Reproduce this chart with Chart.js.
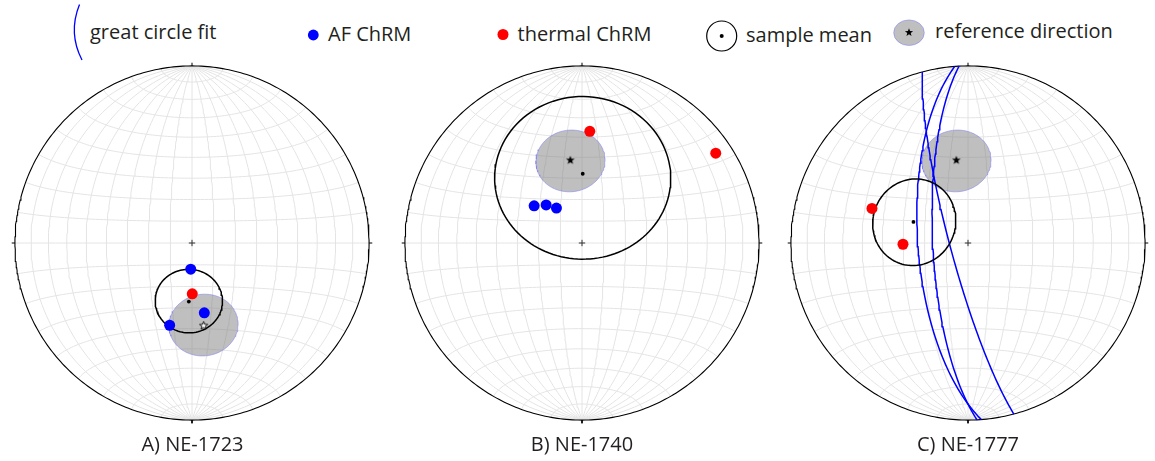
<!DOCTYPE html>
<html>
<head>
<meta charset="utf-8">
<script src="https://cdn.jsdelivr.net/npm/chart.js@4.4.0/dist/chart.umd.min.js"></script>
<style>
  html,body{margin:0;padding:0;background:#fff;}
  body{width:1155px;height:461px;position:relative;overflow:hidden;font-family:'Open Sans',sans-serif;color:#231f20;}
  canvas.net{position:absolute;}
  .txt{position:absolute;font-size:20px;line-height:20px;white-space:nowrap;}
  .title{transform:translateX(-50%);}
  svg{position:absolute;overflow:visible;}
</style>
</head>
<body>
<div id="legend"></div>
<canvas class="net" id="netA" width="390" height="390"></canvas>
<canvas class="net" id="netB" width="390" height="390"></canvas>
<canvas class="net" id="netC" width="390" height="390"></canvas>
<div id="titles"></div>
<script>
// ---------------- DATA (directions as [declination, inclination] in degrees) ----------------
const panelTitles = ['A) NE-1723', 'B) NE-1740', 'C) NE-1777'];
const legendLabels = ['great circle fit', 'AF ChRM', 'thermal ChRM', 'sample mean', 'reference direction'];

// A) NE-1723
const afChrmA = [[182.8, 78.0], [170.0, 57.1], [195.2, 50.2]];
const thermalChrmA = [[179.7, 66.6]];
const sampleMeanA = [183.1, 62.9];
const alpha95A = 15.0;
const referenceA = [172.0, -51.0];
const refAlpha95A = 15.0;
const greatCirclesA = [];

// B) NE-1740
const afChrmB = [[307.8, 62.0], [316.7, 65.9], [323.8, 70.1]];
const thermalChrmB = [[4.0, 36.9], [56.1, 9.9]];
const sampleMeanB = [0.6, 57.9];
const alpha95B = 39.5;
const referenceB = [352.0, 51.0];
const refAlpha95B = 15.0;
const greatCirclesB = [];

// C) NE-1777
const afChrmC = [];
const thermalChrmC = [[289.8, 41.9], [268.9, 59.9]];
const sampleMeanC = [291.1, 63.0];
const alpha95C = 19.5;
const referenceC = [352.0, 51.0];
const refAlpha95C = 15.0;
const greatCirclesC = [[255.0, 81.7], [265.7, 66.9], [267.1, 73.8]]; // [dip direction, dip]

// ---------------- GEOMETRY (equal-area, lower hemisphere) ----------------
const D2R = Math.PI / 180;
function dirVec(dec, inc) {
  const I = Math.abs(inc) * D2R, D = dec * D2R;
  return [Math.cos(I) * Math.sin(D), Math.cos(I) * Math.cos(D), Math.sin(I)];
}
function projVec(v) {
  const z = Math.max(-0.999999, v[2]);
  const k = 1 / Math.sqrt(1 + z);
  return { x: v[0] * k, y: v[1] * k };
}
function projDir(d) { return projVec(dirVec(d[0], d[1])); }
function cross(a, b) { return [a[1]*b[2]-a[2]*b[1], a[2]*b[0]-a[0]*b[2], a[0]*b[1]-a[1]*b[0]]; }
function norm(a) { const l = Math.hypot(a[0], a[1], a[2]); return [a[0]/l, a[1]/l, a[2]/l]; }
function smallCircle(dir, alpha) {
  const m = dirVec(dir[0], dir[1]);
  let e1 = cross(m, [0, 0, 1]);
  if (Math.hypot(e1[0], e1[1], e1[2]) < 1e-6) e1 = [1, 0, 0];
  e1 = norm(e1);
  const e2 = cross(m, e1);
  const ca = Math.cos(alpha * D2R), sa = Math.sin(alpha * D2R);
  const pts = [];
  for (let t = 0; t <= 360; t += 3) {
    const c = Math.cos(t * D2R), s = Math.sin(t * D2R);
    pts.push(projVec([ca*m[0] + sa*(c*e1[0] + s*e2[0]), ca*m[1] + sa*(c*e1[1] + s*e2[1]), ca*m[2] + sa*(c*e1[2] + s*e2[2])]));
  }
  return pts;
}
function greatCircle(gc) {
  const dd = gc[0] * D2R, dip = gc[1] * D2R, st = dd - Math.PI / 2;
  const s = [Math.sin(st), Math.cos(st), 0];
  const d = [Math.cos(dip) * Math.sin(dd), Math.cos(dip) * Math.cos(dd), Math.sin(dip)];
  const pts = [];
  for (let t = 0; t <= 180; t += 2) {
    const c = Math.cos(t * D2R), sn = Math.sin(t * D2R);
    pts.push(projVec([c*s[0] + sn*d[0], c*s[1] + sn*d[1], c*s[2] + sn*d[2]]));
  }
  return pts;
}
function netGrid() {
  const lines = [];
  for (let lam = -80; lam <= 80; lam += 10) {
    const pts = [];
    for (let phi = -90; phi <= 90; phi += 2) {
      const p = phi * D2R, l = lam * D2R;
      pts.push(projVec([Math.cos(p) * Math.sin(l), Math.sin(p), Math.cos(p) * Math.cos(l)]));
    }
    lines.push(pts);
  }
  for (let phi = -80; phi <= 80; phi += 10) {
    const pts = [];
    for (let lam = -90; lam <= 90; lam += 2) {
      const p = phi * D2R, l = lam * D2R;
      pts.push(projVec([Math.cos(p) * Math.sin(l), Math.sin(p), Math.cos(p) * Math.cos(l)]));
    }
    lines.push(pts);
  }
  return lines;
}
function primitive() {
  const pts = [];
  for (let t = 0; t <= 360; t += 1) pts.push({ x: Math.sin(t * D2R), y: Math.cos(t * D2R) });
  return pts;
}

// ---------------- STYLE / LAYOUT ----------------
const R_NET = 182.7, HALF = 195, LIM = HALF / R_NET;
const netCenters = [[192.3, 243], [582.2, 243], [968.2, 243]];
const BLUE = '#0000ff', RED = '#ff0000';

function starCanvas(fill, stroke, outer) {
  const s = Math.ceil(outer * 2 + 4);
  const c = document.createElement('canvas');
  c.width = s; c.height = s;
  const g = c.getContext('2d');
  g.beginPath();
  for (let i = 0; i < 10; i++) {
    const r = i % 2 ? outer * 0.42 : outer;
    const a = -Math.PI / 2 + i * Math.PI / 5;
    const x = s / 2 + r * Math.cos(a), y = s / 2 + r * Math.sin(a);
    if (i) g.lineTo(x, y); else g.moveTo(x, y);
  }
  g.closePath();
  g.fillStyle = fill; g.fill();
  if (stroke) { g.lineWidth = 0.9; g.strokeStyle = stroke; g.stroke(); }
  return c;
}

function lineDS(pts, color, width, order, extra) {
  return Object.assign({ data: pts, showLine: true, fill: false, borderColor: color, borderWidth: width,
    pointRadius: 0, pointHoverRadius: 0, tension: 0, order: order }, extra || {});
}

function buildNet(canvasId, idx, af, thermal, mean, a95, ref, refA95, gcs) {
  const cv = document.getElementById(canvasId);
  cv.style.left = (netCenters[idx][0] - HALF) + 'px';
  cv.style.top = (netCenters[idx][1] - HALF) + 'px';
  const ds = [];
  netGrid().forEach(l => ds.push(lineDS(l, '#e4e4e4', 1, 100)));
  // reference direction confidence area
  ds.push(lineDS(smallCircle(ref, refA95), 'rgba(110,110,255,0.45)', 1, 90,
    { fill: 'shape', backgroundColor: 'rgba(128,128,128,0.5)' }));
  // primitive circle and ticks
  ds.push(lineDS(primitive(), '#000', 1.1, 80));
  const tk = 0.018;
  ds.push(lineDS([{x: 0, y: 1}, {x: 0, y: 1 + tk}], '#000', 1, 80));
  ds.push(lineDS([{x: 0, y: -1}, {x: 0, y: -1 - tk}], '#000', 1, 80));
  ds.push(lineDS([{x: 1, y: 0}, {x: 1 + tk, y: 0}], '#000', 1, 80));
  ds.push(lineDS([{x: -1, y: 0}, {x: -1 - tk, y: 0}], '#000', 1, 80));
  ds.push(lineDS([{x: -tk, y: 0}, {x: tk, y: 0}], '#333', 1, 80));
  ds.push(lineDS([{x: 0, y: -tk}, {x: 0, y: tk}], '#333', 1, 80));
  // great circles
  gcs.forEach(g => ds.push(lineDS(greatCircle(g), BLUE, 1.5, 70)));
  // sample mean confidence circle
  ds.push(lineDS(smallCircle(mean, a95), '#000', 1.5, 60));
  // ChRM directions
  ds.push({ data: af.map(projDir), pointRadius: 5.5, pointHoverRadius: 5.5, backgroundColor: BLUE, borderWidth: 0, order: 50 });
  ds.push({ data: thermal.map(projDir), pointRadius: 5.5, pointHoverRadius: 5.5, backgroundColor: RED, borderWidth: 0, order: 49 });
  // sample mean
  ds.push({ data: [projDir(mean)], pointRadius: 1.9, backgroundColor: '#000', borderWidth: 0, order: 40 });
  // reference direction (open star = upper hemisphere)
  const star = ref[1] < 0 ? starCanvas('#fff', '#000', 4.3) : starCanvas('#000', null, 4.6);
  ds.push({ data: [projDir(ref)], pointStyle: star, pointRadius: 5, order: 30 });

  new Chart(cv, {
    type: 'scatter',
    data: { datasets: ds },
    options: {
      responsive: false, animation: false, events: [],
      layout: { padding: 0 },
      plugins: { legend: { display: false }, tooltip: { enabled: false } },
      scales: {
        x: { type: 'linear', min: -LIM, max: LIM, display: false },
        y: { type: 'linear', min: -LIM, max: LIM, display: false }
      }
    }
  });
}

buildNet('netA', 0, afChrmA, thermalChrmA, sampleMeanA, alpha95A, referenceA, refAlpha95A, greatCirclesA);
buildNet('netB', 1, afChrmB, thermalChrmB, sampleMeanB, alpha95B, referenceB, refAlpha95B, greatCirclesB);
buildNet('netC', 2, afChrmC, thermalChrmC, sampleMeanC, alpha95C, referenceC, refAlpha95C, greatCirclesC);

// ---------------- TITLES ----------------
const titleX = [192.5, 582, 968];
const tdiv = document.getElementById('titles');
panelTitles.forEach((t, i) => {
  const d = document.createElement('div');
  d.className = 'txt title';
  d.textContent = t;
  d.style.left = titleX[i] + 'px';
  d.style.top = (452 - 17.8) + 'px';
  tdiv.appendChild(d);
});

// ---------------- LEGEND ----------------
function starPts(cx, cy, outer) {
  const p = [];
  for (let i = 0; i < 10; i++) {
    const r = i % 2 ? outer * 0.42 : outer;
    const a = -Math.PI / 2 + i * Math.PI / 5;
    p.push((cx + r * Math.cos(a)).toFixed(2) + ',' + (cy + r * Math.sin(a)).toFixed(2));
  }
  return p.join(' ');
}
const legendSymbols = [
  '<svg style="left:0;top:0" width="1" height="1"><path d="M79.5,4.5 Q68,33 82,60" fill="none" stroke="' + BLUE + '" stroke-width="1.3"/></svg>',
  '<svg style="left:0;top:0" width="1" height="1"><circle cx="313.3" cy="35" r="5.4" fill="' + BLUE + '"/></svg>',
  '<svg style="left:0;top:0" width="1" height="1"><circle cx="503" cy="34.5" r="5.5" fill="' + RED + '"/></svg>',
  '<svg style="left:0;top:0" width="1" height="1"><circle cx="721.7" cy="36" r="15" fill="none" stroke="#000" stroke-width="1.2"/><circle cx="721.7" cy="36" r="2" fill="#000"/></svg>',
  '<svg style="left:0;top:0" width="1" height="1"><ellipse cx="909" cy="32.7" rx="15.3" ry="12.8" fill="#bfbfbf" stroke="rgba(110,110,255,0.45)" stroke-width="1"/><polygon points="' + starPts(909, 32.5, 4.3) + '" fill="#000"/></svg>'
];
const legendTextX = [90, 328, 517.5, 746, 935];
const legendBase = [40, 41.7, 41.7, 42.7, 38.3];
const ldiv = document.getElementById('legend');
legendLabels.forEach((t, i) => {
  ldiv.insertAdjacentHTML('beforeend', legendSymbols[i]);
  const d = document.createElement('div');
  d.className = 'txt';
  d.textContent = t;
  d.style.left = legendTextX[i] + 'px';
  d.style.top = (legendBase[i] - 17.8) + 'px';
  ldiv.appendChild(d);
});
</script>
</body>
</html>
